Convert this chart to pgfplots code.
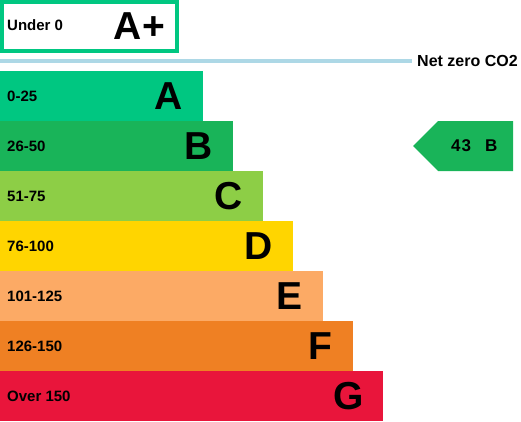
\documentclass[border=0pt]{standalone}
\usepackage{fontspec}
\setmainfont{Liberation Sans}
\usepackage{pgfplots}
\pgfplotsset{compat=1.18}

\definecolor{epcAplus}{HTML}{00C781}
\definecolor{epcA}{HTML}{00C781}
\definecolor{epcB}{HTML}{19B459}
\definecolor{epcC}{HTML}{8DCE46}
\definecolor{epcD}{HTML}{FFD500}
\definecolor{epcE}{HTML}{FCAA65}
\definecolor{epcF}{HTML}{EF8023}
\definecolor{epcG}{HTML}{E9153B}
\definecolor{netzero}{HTML}{ADD8E6}

\begin{document}
\begin{tikzpicture}
\begin{axis}[
    width=521pt, height=421pt, scale only axis,
    xmin=0, xmax=521, ymin=0, ymax=421,
    y dir=reverse,
    hide axis, clip=false,
]
    % rating bands: length of each band, centre of the band
    \addplot[xbar, bar shift=0pt, bar width=50pt, fill=epcA, draw=none] coordinates {(203,96)};
    \addplot[xbar, bar shift=0pt, bar width=50pt, fill=epcB, draw=none] coordinates {(233,146)};
    \addplot[xbar, bar shift=0pt, bar width=50pt, fill=epcC, draw=none] coordinates {(263,196)};
    \addplot[xbar, bar shift=0pt, bar width=50pt, fill=epcD, draw=none] coordinates {(293,246)};
    \addplot[xbar, bar shift=0pt, bar width=50pt, fill=epcE, draw=none] coordinates {(323,296)};
    \addplot[xbar, bar shift=0pt, bar width=50pt, fill=epcF, draw=none] coordinates {(353,346)};
    \addplot[xbar, bar shift=0pt, bar width=50pt, fill=epcG, draw=none] coordinates {(383,396)};

    % A+ box
    \addplot[draw=epcAplus, line width=4pt, fill=white, mark=none]
        coordinates {(2,2) (177,2) (177,51) (2,51)} -- cycle;

    % net zero line
    \addplot[netzero, line width=4pt, mark=none] coordinates {(0,61) (412,61)};

    % current rating arrow
    \addplot[fill=epcB, draw=none, mark=none]
        coordinates {(413,146) (438,121) (513,121) (513,171) (438,171)} -- cycle;

    \begin{scope}[every node/.style={font=\bfseries\fontsize{15}{15}\selectfont, inner sep=0pt}]
        \node[anchor=west] at (axis cs:7,25) {Under 0};
        \node[anchor=west] at (axis cs:7,96) {0-25};
        \node[anchor=west] at (axis cs:7,146) {26-50};
        \node[anchor=west] at (axis cs:7,196) {51-75};
        \node[anchor=west] at (axis cs:7,246) {76-100};
        \node[anchor=west] at (axis cs:7,296) {101-125};
        \node[anchor=west] at (axis cs:7,346) {126-150};
        \node[anchor=west] at (axis cs:7,396) {Over 150};
        \node[anchor=west, font=\bfseries\fontsize{16}{16}\selectfont] at (axis cs:417,61) {Net zero CO2};
        \node[anchor=west, font=\bfseries\fontsize{17}{17}\selectfont] at (axis cs:451,146) {\addfontfeature{LetterSpace=6}43};
        \node[anchor=west, font=\bfseries\fontsize{17}{17}\selectfont] at (axis cs:485,146) {B};
    \end{scope}

    \begin{scope}[every node/.style={font=\bfseries\fontsize{39}{39}\selectfont, inner sep=0pt, anchor=east}]
        \node at (axis cs:165,26) {A+};
        \node at (axis cs:183,96) {A};
        \node at (axis cs:213,146) {B};
        \node at (axis cs:243,196) {C};
        \node at (axis cs:273,246) {D};
        \node at (axis cs:303,296) {E};
        \node at (axis cs:333,346) {F};
        \node at (axis cs:364,396) {G};
    \end{scope}
\end{axis}
\pgfresetboundingbox
\path[use as bounding box] (current axis.south west) rectangle (current axis.north east);
\end{tikzpicture}
\end{document}
